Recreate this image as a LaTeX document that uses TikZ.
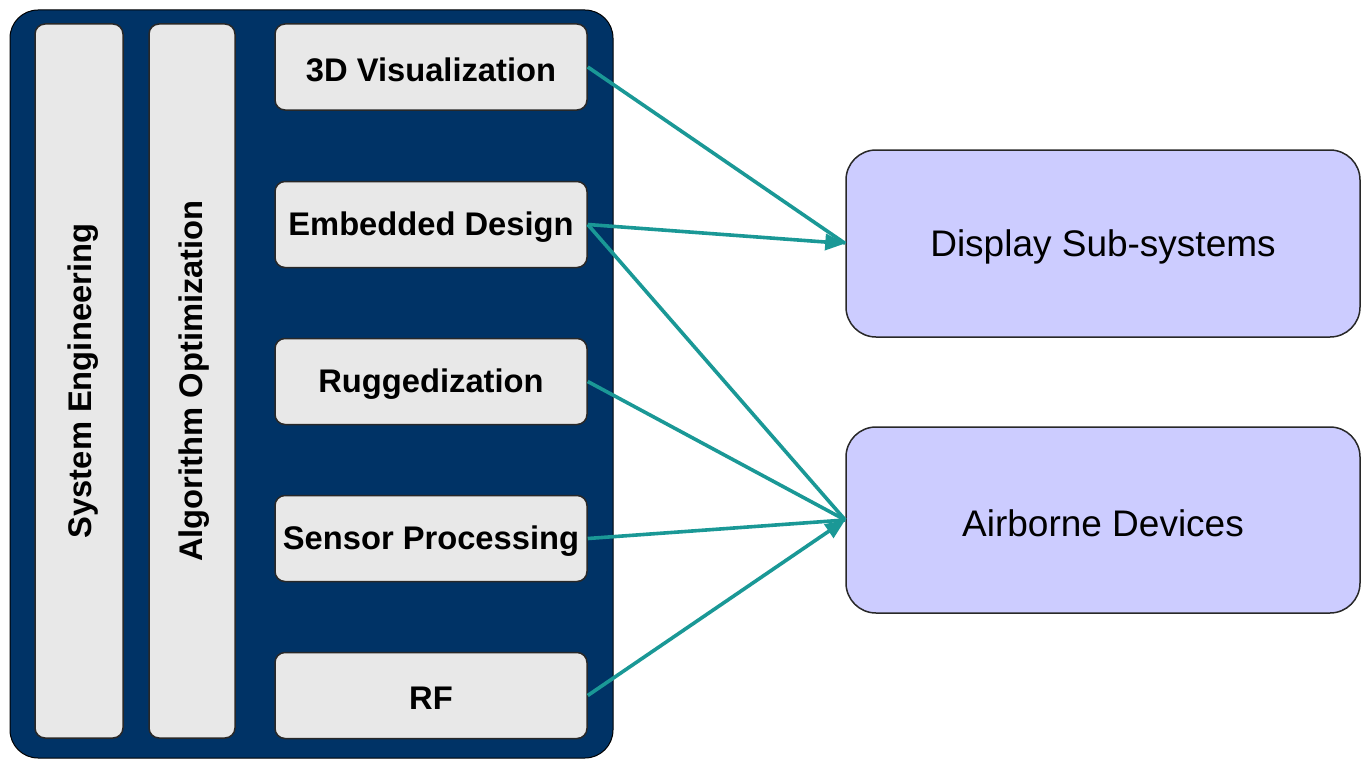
\documentclass[tikz,border=0pt]{standalone}
\usepackage{fontspec}
\setmainfont{Liberation Sans}
\usetikzlibrary{arrows.meta}
\definecolor{navy}{RGB}{0,51,102}
\definecolor{boxgray}{RGB}{232,232,232}
\definecolor{lav}{RGB}{204,204,255}
\definecolor{teal2}{RGB}{26,152,150}
\definecolor{edge}{RGB}{40,40,40}
\newcommand{\lowtext}[2][3pt]{\raisebox{-#1}[\height][\depth]{#2}}
\tikzset{
  outerbox/.style={draw=black, line width=1pt, fill=navy, rounded corners=28pt, inner sep=0pt},
  colbox/.style={draw=edge, line width=1.5pt, fill=boxgray, rounded corners=10pt, inner sep=0pt, rotate=90,
    minimum width=714pt, font=\fontsize{32.7}{39}\selectfont\bfseries},
  itembox/.style={draw=edge, line width=1.5pt, fill=boxgray, rounded corners=10pt, inner sep=0pt,
    minimum width=312pt, minimum height=86pt, font=\fontsize{32.7}{39}\selectfont\bfseries},
  targetbox/.style={draw=edge, line width=1.5pt, fill=lav, rounded corners=30pt, inner sep=0pt,
    minimum width=514pt, minimum height=187pt, font=\fontsize{37}{44}\selectfont},
  conn/.style={draw=teal2, line width=3.6pt},
  connarrow/.style={conn, -{Triangle[length=20pt,width=16pt]}}
}
\begin{document}
\begin{tikzpicture}[x=1pt,y=-1pt]
\useasboundingbox (0,0) rectangle (1362,760);
\node[outerbox, minimum width=603pt, minimum height=748pt] (outer) at (311.5,384) {};
\node[colbox, minimum height=88pt] (se) at (79,381) {\lowtext[4pt]{System Engineering}};
\node[colbox, minimum height=86pt] (ao) at (192,381) {\lowtext[2pt]{Algorithm Optimization}};
\node[itembox] (vis) at (431,67) {\lowtext{3D Visualization}};
\node[itembox] (emb) at (431,224.5) {\lowtext{Embedded Design}};
\node[itembox] (rug) at (431,381.5) {\lowtext{Ruggedization}};
\node[itembox] (sen) at (431,538.5) {\lowtext{Sensor Processing}};
\node[itembox] (rf) at (431,695.5) {\lowtext{RF}};
\node[targetbox] (disp) at (1103,243.5) {\lowtext{Display Sub-systems}};
\node[targetbox, minimum height=186pt] (air) at (1103,520) {\lowtext{Airborne Devices}};
\draw[conn] (vis.east) -- (disp.west);
\draw[connarrow] (emb.east) -- (disp.west);
\draw[conn] (emb.east) -- (air.west);
\draw[conn] (rug.east) -- (air.west);
\draw[conn] (sen.east) -- (air.west);
\draw[connarrow] (rf.east) -- (air.west);
\end{tikzpicture}
\end{document}
